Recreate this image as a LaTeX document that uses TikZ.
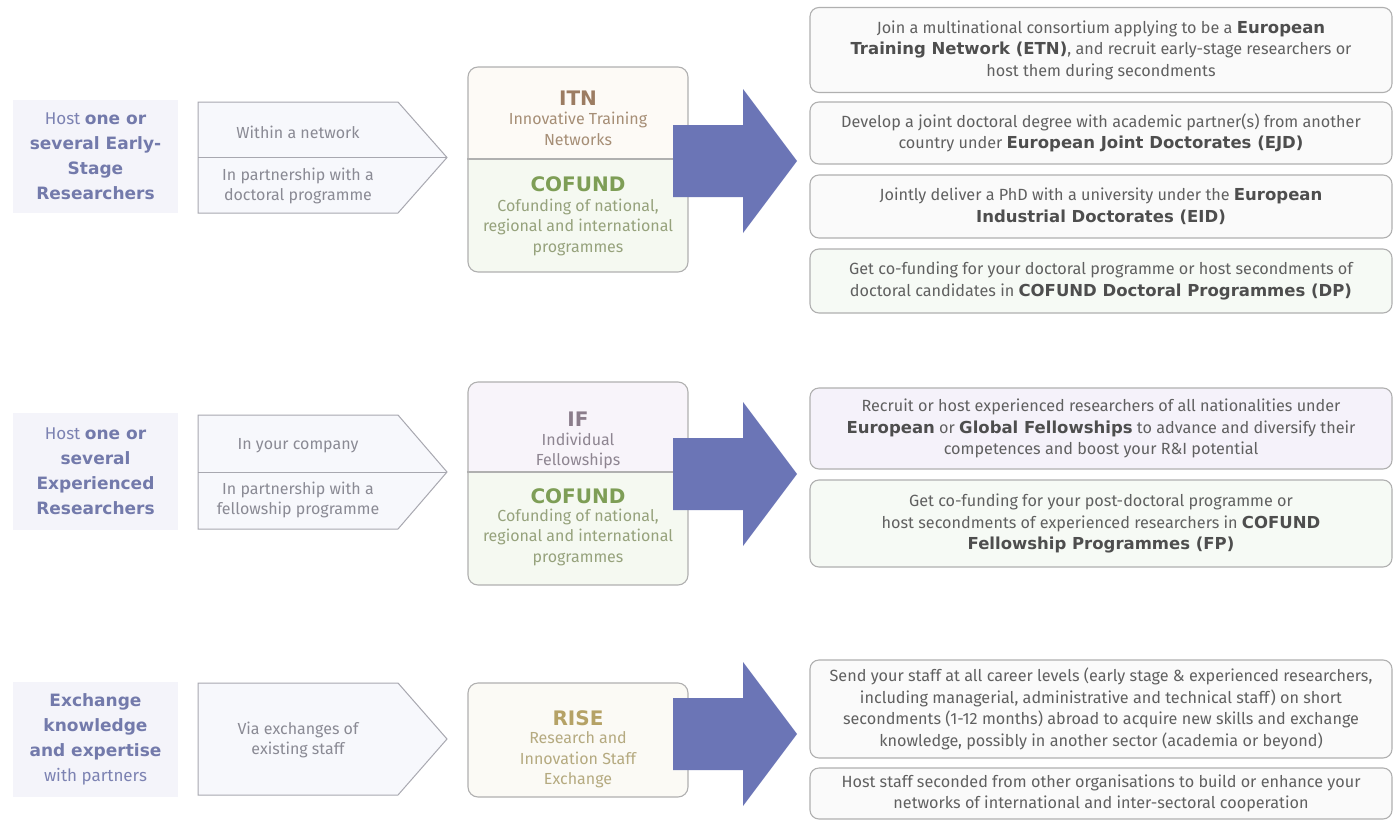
\documentclass[tikz,border=0pt]{standalone}
\usepackage{fontspec}
\setmainfont{Fira Sans}
\newfontfamily\dvs{DejaVu Sans}
\definecolor{lbltext}{HTML}{7C82B2}
\definecolor{lblbold}{HTML}{737AAB}
\definecolor{lblbg}{HTML}{F4F4FA}
\definecolor{pentfill}{HTML}{F7F8FC}
\definecolor{pentline}{HTML}{A8A8B0}
\definecolor{penttext}{HTML}{8A8A94}
\definecolor{boxline}{HTML}{B0B0B0}
\definecolor{arrowblue}{HTML}{6B75B6}
\definecolor{itncol}{HTML}{9C7C62}
\definecolor{itnsub}{HTML}{A68E76}
\definecolor{cofcol}{HTML}{7E9E56}
\definecolor{cofsub}{HTML}{96A27C}
\definecolor{ifcol}{HTML}{8B7D8B}
\definecolor{ifsub}{HTML}{8E8591}
\definecolor{risecol}{HTML}{B5A266}
\definecolor{risesub}{HTML}{B5AA80}
\definecolor{rtext}{HTML}{606060}
\definecolor{rbold}{HTML}{4E4E4E}
\definecolor{itnfill}{HTML}{FDFAF6}
\definecolor{coffill}{HTML}{F5F9F1}
\definecolor{iffill}{HTML}{F8F4FA}
\definecolor{risefill}{HTML}{FBFAF5}
\definecolor{rwhite}{HTML}{FAFAFA}
\definecolor{rgreen}{HTML}{F6FAF5}
\definecolor{rlav}{HTML}{F5F2FA}
\newcommand{\rb}[1]{{\dvs\bfseries\fontsize{16.5}{21.5}\selectfont\color{rbold}#1}}
\newcommand{\lb}[1]{{\dvs\bfseries\color{lblbold}#1}}
\begin{document}
\begin{tikzpicture}[x=1pt,y=-1pt,
  lblbox/.style={fill=lblbg, inner sep=0pt, text=lbltext, align=center,
    minimum width=165pt, font=\fontsize{17}{25}\selectfont},
  penttxt/.style={text=penttext, align=center, inner sep=0pt, font=\fontsize{16}{20.5}\selectfont},
  pentshape/.style={fill=pentfill, draw=pentline, line width=1pt},
  midbox/.style={draw=boxline, line width=1.1pt, rounded corners=10pt, inner sep=0pt, minimum width=220pt},
  midtitle/.style={inner sep=0pt, font=\dvs\bfseries\fontsize{20}{24}\selectfont},
  midsub/.style={inner sep=0pt, align=center, font=\fontsize{16}{20.5}\selectfont},
  rbox/.style={draw=boxline, line width=1.1pt, rounded corners=9pt, text=rtext, align=center,
    minimum width=582pt, inner sep=0pt, font=\fontsize{16.2}{21.5}\selectfont},
  bigarrow/.style={fill=arrowblue}
]
\useasboundingbox[fill=white] (0,0) rectangle (1398,822);

% ---------------- Row 1 ----------------
\node[lblbox, minimum height=113pt] (l1) at (95.5,156.5)
  {Host \lb{one or}\\\lb{several Early-}\\\lb{Stage}\\\lb{Researchers}};
\path[pentshape] (198,102) -- (398,102) -- (447,157.5) -- (398,213) -- (198,213) -- cycle;
\draw[pentline, line width=1pt] (198,157.5) -- (447,157.5);
\node[penttxt] (p1a) at (298,132) {Within a network};
\node[penttxt] (p1b) at (298,186) {In partnership with a\\doctoral programme};

\begin{scope}
  \clip[rounded corners=10pt] (468,67) rectangle (688,272);
  \fill[itnfill] (468,67) rectangle (688,159);
  \fill[coffill] (468,159) rectangle (688,272);
\end{scope}
\node[midbox, minimum height=205pt] (m1) at (578,169.5) {};
\draw[boxline, line width=1.1pt] (m1.west |- 0,159) -- (m1.east |- 0,159);
\node[midtitle, text=itncol] (itn) at (578,98) {ITN};
\node[midsub, text=itnsub] (itns) at (578,129) {Innovative Training\\Networks};
\node[midtitle, text=cofcol] (cof1) at (578,184) {COFUND};
\node[midsub, text=cofsub] (cof1s) at (578,227) {Cofunding of national,\\regional and international\\programmes};

\begin{scope}[shift={(0,161)}]
  \fill[bigarrow] (673,-36) -- (743,-36) -- (743,-72) -- (797,0) -- (743,72) -- (743,36) -- (673,36) -- cycle;
\end{scope}

\node[rbox, fill=rwhite, minimum height=85pt] (r1a) at (1101,50)
  {Join a multinational consortium applying to be a \rb{European}\\
   \rb{Training Network (ETN)}, and recruit early-stage researchers or\\
   host them during secondments};
\node[rbox, fill=rwhite, minimum height=62pt] (r1b) at (1101,133)
  {Develop a joint doctoral degree with academic partner(s) from another\\
   country under \rb{European Joint Doctorates (EJD)}};
\node[rbox, fill=rwhite, minimum height=63pt] (r1c) at (1101,206.5)
  {Jointly deliver a PhD with a university under the \rb{European}\\
   \rb{Industrial Doctorates (EID)}};
\node[rbox, fill=rgreen, minimum height=64pt] (r1d) at (1101,281)
  {Get co-funding for your doctoral programme or host secondments of\\
   doctoral candidates in \rb{COFUND Doctoral Programmes (DP)}};

% ---------------- Row 2 ----------------
\node[lblbox, minimum height=117pt] (l2) at (95.5,471.5)
  {Host \lb{one or}\\\lb{several}\\\lb{Experienced}\\\lb{Researchers}};
\path[pentshape] (198,415) -- (398,415) -- (447,472) -- (398,529) -- (198,529) -- cycle;
\draw[pentline, line width=1pt] (198,472) -- (447,472);
\node[penttxt] (p2a) at (298,446) {In your company};
\node[penttxt] (p2b) at (298,500) {In partnership with a\\fellowship programme};

\begin{scope}
  \clip[rounded corners=10pt] (468,382) rectangle (688,585);
  \fill[iffill] (468,382) rectangle (688,472);
  \fill[coffill] (468,472) rectangle (688,585);
\end{scope}
\node[midbox, minimum height=203pt] (m2) at (578,483.5) {};
\draw[boxline, line width=1.1pt] (m2.west |- 0,472) -- (m2.east |- 0,472);
\node[midtitle, text=ifcol] (if) at (578,419) {IF};
\node[midsub, text=ifsub] (ifs) at (578,451) {Individual\\Fellowships};
\node[midtitle, text=cofcol] (cof2) at (578,496) {COFUND};
\node[midsub, text=cofsub] (cof2s) at (578,537) {Cofunding of national,\\regional and international\\programmes};

\begin{scope}[shift={(0,474)}]
  \fill[bigarrow] (673,-36) -- (743,-36) -- (743,-72) -- (797,0) -- (743,72) -- (743,36) -- (673,36) -- cycle;
\end{scope}

\node[rbox, fill=rlav, minimum height=81pt] (r2a) at (1101,428.5)
  {Recruit or host experienced researchers of all nationalities under\\
   \rb{European} or \rb{Global Fellowships} to advance and diversify their\\
   competences and boost your R\&I potential};
\node[rbox, fill=rgreen, minimum height=87pt] (r2b) at (1101,523.5)
  {Get co-funding for your post-doctoral programme or\\
   host secondments of experienced researchers in \rb{COFUND}\\
   \rb{Fellowship Programmes (FP)}};

% ---------------- Row 3 ----------------
\node[lblbox, minimum height=115pt] (l3) at (95.5,739.5)
  {\lb{Exchange}\\\lb{knowledge}\\\lb{and expertise}\\with partners};
\path[pentshape] (198,683) -- (398,683) -- (447,739) -- (398,795) -- (198,795) -- cycle;
\node[penttxt] (p3) at (298,740) {Via exchanges of\\existing staff};

\node[midbox, fill=risefill, minimum height=114pt] (m3) at (578,740) {};
\node[midtitle, text=risecol] (rise) at (578,718) {RISE};
\node[midsub, text=risesub] (rises) at (578,760) {Research and\\Innovation Staff\\Exchange};

\begin{scope}[shift={(0,734)}]
  \fill[bigarrow] (673,-36) -- (743,-36) -- (743,-72) -- (797,0) -- (743,72) -- (743,36) -- (673,36) -- cycle;
\end{scope}

\node[rbox, fill=rwhite, minimum height=98pt] (r3a) at (1101,709)
  {Send your staff at all career levels (early stage \& experienced researchers,\\
   including managerial, administrative and technical staff) on short\\
   secondments (1-12 months) abroad to acquire new skills and exchange\\
   knowledge, possibly in another sector (academia or beyond)};
\node[rbox, fill=rwhite, minimum height=51pt] (r3b) at (1101,793.5)
  {Host staff seconded from other organisations to build or enhance your\\
   networks of international and inter-sectoral cooperation};
\end{tikzpicture}
\end{document}
